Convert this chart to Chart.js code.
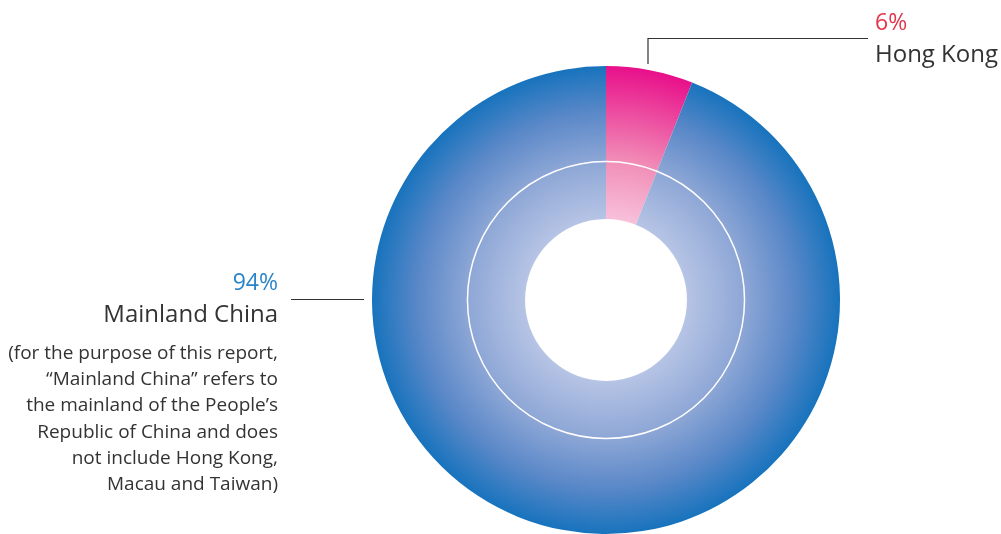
<!DOCTYPE html>
<html>
<head>
<meta charset="utf-8">
<script src="https://cdn.jsdelivr.net/npm/chart.js@4/dist/chart.umd.min.js"></script>
<style>
  html, body { margin: 0; padding: 0; background: #fff; }
  #wrap { width: 1001px; height: 534px; position: relative; }
</style>
</head>
<body>
<div id="wrap"><canvas id="chart"></canvas></div>
<script>
var regions = ['Hong Kong', 'Mainland China']
var shares = [6, 94]
var shareLabels = ['6%', '94%']
var labelColors = ['#e2354a', '#2a84c8']
var footnote = [
    '(for the purpose of this report,',
    '\u201cMainland China\u201d refers to',
    'the mainland of the People\u2019s',
    'Republic of China and does',
    'not include Hong Kong,',
    'Macau and Taiwan)'
]

var cutoutRatio = 0.346
var gradStops = [
    [[0, '#f8c0da'], [0.37, '#f190b8'], [1, '#e80f8a']],
    [[0, '#b6c4e5'], [0.37, '#8ea7d6'], [0.7, '#5a88c8'], [1, '#1773bd']]
]

function fillFor(ctx) {
    var chart = ctx.chart
    var area = chart.chartArea
    if (!area) return gradStops[ctx.dataIndex][1][1]
    var cx = (area.left + area.right) / 2
    var cy = (area.top + area.bottom) / 2
    var r = Math.min(area.right - area.left, area.bottom - area.top) / 2
    var g = chart.ctx.createRadialGradient(cx, cy, r * cutoutRatio, cx, cy, r)
    gradStops[ctx.dataIndex].forEach(function (s) { g.addColorStop(s[0], s[1]) })
    return g
}

var font = '"Open Sans", "Noto Sans", sans-serif'

var extras = {
    id: 'extras',
    afterDatasetsDraw: function (chart) {
        var c = chart.ctx
        var arc = chart.getDatasetMeta(0).data[0]
        if (!arc) return
        // thin white ring
        c.save()
        c.strokeStyle = '#ffffff'
        c.lineWidth = 1.5
        c.beginPath()
        c.arc(arc.x, arc.y, arc.outerRadius * 0.592, 0, Math.PI * 2)
        c.stroke()
        c.restore()
    },
    afterDraw: function (chart) {
        var c = chart.ctx
        c.save()
        c.strokeStyle = '#333'
        c.lineWidth = 1.2
        // Hong Kong leader
        c.beginPath()
        c.moveTo(648, 64)
        c.lineTo(648, 38.5)
        c.lineTo(868, 38.5)
        c.stroke()
        // Mainland leader
        c.beginPath()
        c.moveTo(291, 299.5)
        c.lineTo(364, 299.5)
        c.stroke()

        c.textBaseline = 'alphabetic'
        c.font = '23px ' + font
        c.fillStyle = labelColors[0]
        c.textAlign = 'left'
        c.fillText(shareLabels[0], 875, 30)
        c.font = '24px ' + font
        c.fillStyle = '#333'
        c.fillText(regions[0], 875, 62)

        c.textAlign = 'right'
        c.font = '23px ' + font
        c.fillStyle = labelColors[1]
        c.fillText(shareLabels[1], 278, 290)
        c.font = '24px ' + font
        c.fillStyle = '#333'
        c.fillText(regions[1], 278, 322)

        c.font = '19px ' + font
        footnote.forEach(function (line, i) {
            c.fillText(line, 278, 359 + i * 26.2)
        })
        c.restore()
    }
}

new Chart(document.getElementById('chart'), {
    type: 'doughnut',
    data: {
        labels: regions,
        datasets: [{
            data: shares,
            backgroundColor: fillFor,
            borderWidth: 0,
            hoverOffset: 0
        }]
    },
    options: {
        responsive: true,
        maintainAspectRatio: false,
        animation: false,
        cutout: (cutoutRatio * 100) + '%',
        layout: { padding: { left: 372, right: 161, top: 66, bottom: 0 } },
        plugins: {
            legend: { display: false },
            tooltip: { enabled: false }
        }
    },
    plugins: [extras]
})
</script>
</body>
</html>
